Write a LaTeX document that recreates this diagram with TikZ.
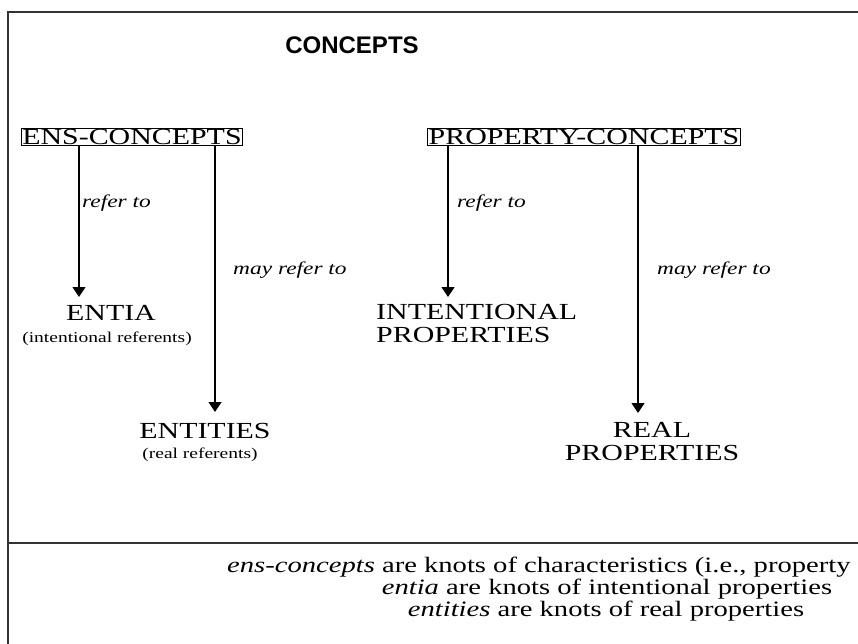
\documentclass[tikz,border=0pt]{standalone}
\usepackage{fontspec}
\setmainfont{Liberation Serif}[FakeStretch=1.3]
\newfontfamily\titlefont{Liberation Sans}
\usetikzlibrary{positioning, arrows.meta}
\tikzset{x=1pt, y=-1pt,
  concept/.style={draw, line width=1pt, inner sep=1pt, font=\fontsize{23}{24}\selectfont},
  referent/.style={inner sep=0pt, font=\fontsize{23}{23}\selectfont, align=center},
  note/.style={inner sep=0pt, font=\fontsize{15}{16}\selectfont},
  relation/.style={inner sep=0pt, anchor=west, font=\fontsize{18}{19}\selectfont\itshape},
  knot/.style={inner sep=0pt, font=\fontsize{22}{23}\selectfont},
  arr/.style={-{Triangle[length=10pt, width=13pt]}, line width=1.3pt},
}

\begin{document}
\begin{tikzpicture}
            \useasboundingbox (0,0) rectangle (858,644);
            % frame
            \draw[line width=1.6pt, black!80] (8,644) -- (8,12) -- (858,12);
            \draw[line width=1.4pt, black!80] (8,543) -- (858,543);

            \node[font=\titlefont\bfseries\fontsize{24}{26}\selectfont] (title) at (352,45) {CONCEPTS};

            \node[concept] (ens) at (132,137) {ENS-CONCEPTS};
            \node[concept] (prop) at (584,137) {PROPERTY-CONCEPTS};

            \node[referent] (entia) at (111,313) {ENTIA};
            \node[note] (entianote) at (107,339) {(intentional referents)};
            \node[referent] (entities) at (205,431) {ENTITIES};
            \node[note] (entitiesnote) at (200,455) {(real referents)};
            \node[referent, align=left, anchor=north west] (intprop) at (376,304) {INTENTIONAL\\PROPERTIES};
            \node[referent] (realprop) at (652,442) {REAL\\PROPERTIES};

            \coordinate (t1) at (79,297);
            \coordinate (t2) at (215,412);
            \coordinate (t3) at (448,297);
            \coordinate (t4) at (638,413);

            \draw[arr] (ens.south -| t1) -- (t1);
            \draw[arr] (ens.south -| t2) -- (t2);
            \draw[arr] (prop.south -| t3) -- (t3);
            \draw[arr] (prop.south -| t4) -- (t4);

            \node[relation] (r1) at (82,203) {refer to};
            \node[relation] (r2) at (233,270) {may refer to};
            \node[relation] (r3) at (457,203) {refer to};
            \node[relation] (r4) at (657,270) {may refer to};

            % footnote lines
            \node[knot, anchor=west] (k1) at (227,567) {\textit{ens-concepts} are knots of characteristics (i.e., property};
            \node[knot] (k2) at (607,589) {\textit{entia} are knots of intentional properties};
            \node[knot] (k3) at (606,611) {\textit{entities} are knots of real properties};
        \end{tikzpicture}
\end{document}
